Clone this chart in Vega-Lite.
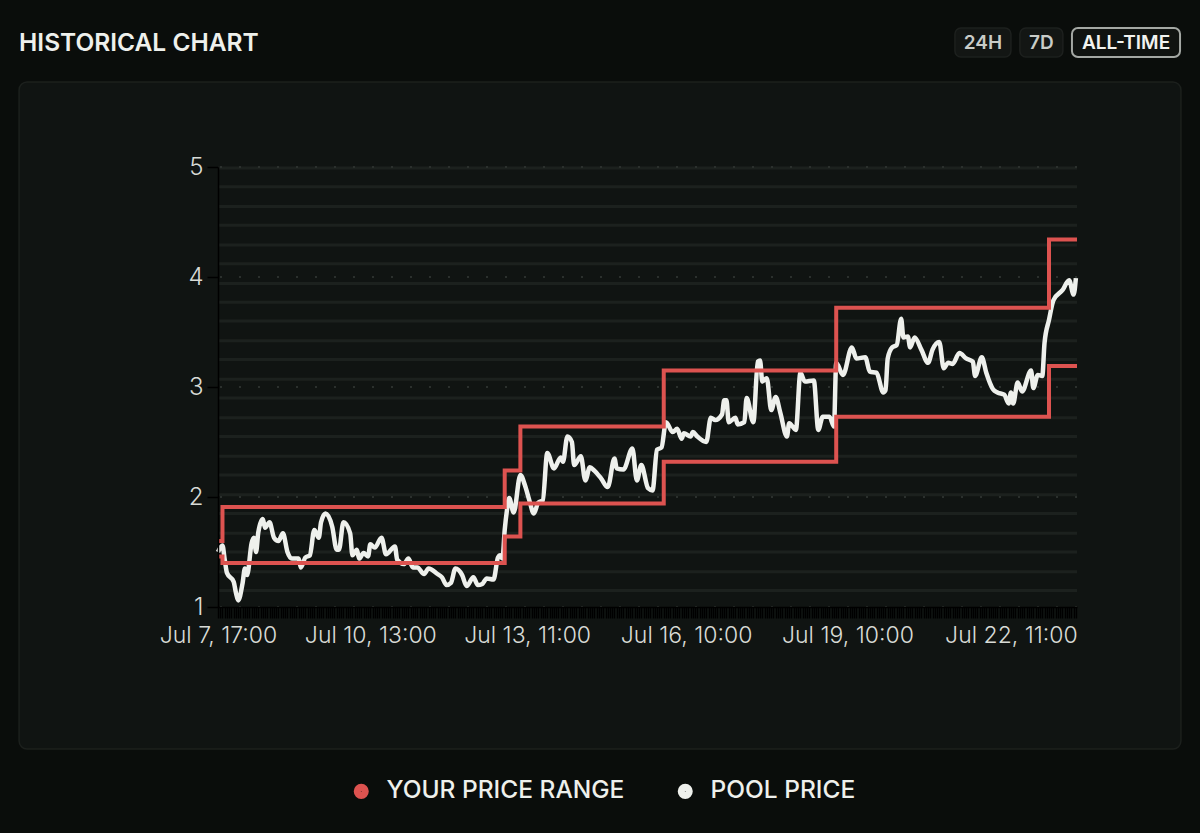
{"$schema":"https://vega.github.io/schema/vega-lite/v6.json","width":859,"height":440,"autosize":{"type":"none"},"padding":{"left":218,"top":167,"right":123,"bottom":226},"background":"#0a0d0b","view":{"stroke":null},
"datasets":{
"minor":[{"v":4.99},{"v":4.82},{"v":4.64},{"v":4.47},{"v":4.29},{"v":4.12},{"v":3.94},{"v":3.77},{"v":3.6},{"v":3.42},{"v":3.25},{"v":3.07},{"v":2.9},{"v":2.72},{"v":2.55},{"v":2.37},{"v":2.2},{"v":2.02},{"v":1.85},{"v":1.67},{"v":1.5},{"v":1.32},{"v":1.15}],
"major":[{"v":5},{"v":4},{"v":3},{"v":2},{"v":1}],
"range":[
{"t":"2023-07-07T17:00Z","v":1.60,"bound":"upper"},{"t":"2023-07-07T19:00Z","v":1.91,"bound":"upper"},{"t":"2023-07-13T01:00Z","v":2.24,"bound":"upper"},{"t":"2023-07-13T08:00Z","v":2.64,"bound":"upper"},{"t":"2023-07-16T00:00Z","v":3.15,"bound":"upper"},{"t":"2023-07-19T05:00Z","v":3.72,"bound":"upper"},{"t":"2023-07-23T04:00Z","v":4.34,"bound":"upper"},{"t":"2023-07-23T16:30Z","v":4.34,"bound":"upper"},
{"t":"2023-07-07T17:00Z","v":1.46,"bound":"lower"},{"t":"2023-07-07T19:00Z","v":1.40,"bound":"lower"},{"t":"2023-07-13T01:00Z","v":1.64,"bound":"lower"},{"t":"2023-07-13T08:00Z","v":1.94,"bound":"lower"},{"t":"2023-07-16T00:00Z","v":2.32,"bound":"lower"},{"t":"2023-07-19T05:00Z","v":2.73,"bound":"lower"},{"t":"2023-07-23T04:00Z","v":3.19,"bound":"lower"},{"t":"2023-07-23T16:30Z","v":3.19,"bound":"lower"}],
"price":[
{"t":"2023-07-07T17:00Z","v":1.50},{"t":"2023-07-07T19:00Z","v":1.56},{"t":"2023-07-07T20:00Z","v":1.43},{"t":"2023-07-07T21:00Z","v":1.31},{"t":"2023-07-08T00:00Z","v":1.23},{"t":"2023-07-08T01:00Z","v":1.13},{"t":"2023-07-08T02:00Z","v":1.06},{"t":"2023-07-08T04:00Z","v":1.22},{"t":"2023-07-08T05:00Z","v":1.35},{"t":"2023-07-08T06:00Z","v":1.29},{"t":"2023-07-08T08:00Z","v":1.58},{"t":"2023-07-08T09:00Z","v":1.63},{"t":"2023-07-08T10:00Z","v":1.50},{"t":"2023-07-08T11:00Z","v":1.68},{"t":"2023-07-08T13:00Z","v":1.80},{"t":"2023-07-08T14:00Z","v":1.72},{"t":"2023-07-08T16:00Z","v":1.77},{"t":"2023-07-08T18:00Z","v":1.63},{"t":"2023-07-08T20:00Z","v":1.60},{"t":"2023-07-08T22:00Z","v":1.67},
{"t":"2023-07-09T00:00Z","v":1.50},{"t":"2023-07-09T02:00Z","v":1.44},{"t":"2023-07-09T05:00Z","v":1.44},{"t":"2023-07-09T06:00Z","v":1.36},{"t":"2023-07-09T08:00Z","v":1.45},{"t":"2023-07-09T10:00Z","v":1.47},{"t":"2023-07-09T12:00Z","v":1.70},{"t":"2023-07-09T14:00Z","v":1.63},{"t":"2023-07-09T15:00Z","v":1.77},{"t":"2023-07-09T17:00Z","v":1.85},{"t":"2023-07-09T20:00Z","v":1.73},{"t":"2023-07-09T22:00Z","v":1.52},{"t":"2023-07-09T23:00Z","v":1.52},
{"t":"2023-07-10T01:00Z","v":1.77},{"t":"2023-07-10T04:00Z","v":1.67},{"t":"2023-07-10T05:00Z","v":1.47},{"t":"2023-07-10T07:00Z","v":1.52},{"t":"2023-07-10T08:00Z","v":1.44},{"t":"2023-07-10T10:00Z","v":1.49},{"t":"2023-07-10T12:00Z","v":1.46},{"t":"2023-07-10T13:00Z","v":1.57},{"t":"2023-07-10T15:00Z","v":1.54},{"t":"2023-07-10T18:00Z","v":1.63},{"t":"2023-07-10T20:00Z","v":1.48},
{"t":"2023-07-11T00:00Z","v":1.55},{"t":"2023-07-11T01:00Z","v":1.43},{"t":"2023-07-11T04:00Z","v":1.39},{"t":"2023-07-11T06:00Z","v":1.44},{"t":"2023-07-11T08:00Z","v":1.36},{"t":"2023-07-11T10:00Z","v":1.36},{"t":"2023-07-11T13:00Z","v":1.30},{"t":"2023-07-11T15:00Z","v":1.35},{"t":"2023-07-11T19:00Z","v":1.30},{"t":"2023-07-11T21:00Z","v":1.27},{"t":"2023-07-11T23:00Z","v":1.20},
{"t":"2023-07-12T01:00Z","v":1.22},{"t":"2023-07-12T03:00Z","v":1.35},{"t":"2023-07-12T06:00Z","v":1.29},{"t":"2023-07-12T08:00Z","v":1.19},{"t":"2023-07-12T11:00Z","v":1.27},{"t":"2023-07-12T13:00Z","v":1.20},{"t":"2023-07-12T15:00Z","v":1.21},{"t":"2023-07-12T17:00Z","v":1.26},{"t":"2023-07-12T20:00Z","v":1.25},{"t":"2023-07-12T22:00Z","v":1.45},{"t":"2023-07-12T23:00Z","v":1.47},
{"t":"2023-07-13T00:00Z","v":1.44},{"t":"2023-07-13T01:00Z","v":1.70},{"t":"2023-07-13T02:00Z","v":1.88},{"t":"2023-07-13T03:00Z","v":1.99},{"t":"2023-07-13T05:00Z","v":1.86},{"t":"2023-07-13T08:00Z","v":2.20},{"t":"2023-07-13T10:00Z","v":2.11},{"t":"2023-07-13T12:00Z","v":1.97},{"t":"2023-07-13T14:00Z","v":1.85},{"t":"2023-07-13T16:00Z","v":1.95},{"t":"2023-07-13T18:00Z","v":1.97},{"t":"2023-07-13T20:00Z","v":2.40},{"t":"2023-07-13T23:00Z","v":2.26},
{"t":"2023-07-14T02:00Z","v":2.36},{"t":"2023-07-14T03:00Z","v":2.32},{"t":"2023-07-14T05:00Z","v":2.55},{"t":"2023-07-14T07:00Z","v":2.50},{"t":"2023-07-14T08:00Z","v":2.29},{"t":"2023-07-14T11:00Z","v":2.37},{"t":"2023-07-14T13:00Z","v":2.15},{"t":"2023-07-14T15:00Z","v":2.27},{"t":"2023-07-14T17:00Z","v":2.24},{"t":"2023-07-14T20:00Z","v":2.17},{"t":"2023-07-14T23:00Z","v":2.09},
{"t":"2023-07-15T02:00Z","v":2.35},{"t":"2023-07-15T03:00Z","v":2.26},{"t":"2023-07-15T06:00Z","v":2.25},{"t":"2023-07-15T10:00Z","v":2.44},{"t":"2023-07-15T12:00Z","v":2.15},{"t":"2023-07-15T14:00Z","v":2.29},{"t":"2023-07-15T17:00Z","v":2.08},{"t":"2023-07-15T19:00Z","v":2.06},{"t":"2023-07-15T21:00Z","v":2.43},{"t":"2023-07-15T23:00Z","v":2.45},
{"t":"2023-07-16T01:00Z","v":2.68},{"t":"2023-07-16T04:00Z","v":2.59},{"t":"2023-07-16T06:00Z","v":2.62},{"t":"2023-07-16T08:00Z","v":2.53},{"t":"2023-07-16T09:00Z","v":2.58},{"t":"2023-07-16T12:00Z","v":2.55},{"t":"2023-07-16T13:00Z","v":2.59},{"t":"2023-07-16T15:00Z","v":2.55},{"t":"2023-07-16T19:00Z","v":2.50},{"t":"2023-07-16T21:00Z","v":2.72},{"t":"2023-07-16T23:00Z","v":2.70},
{"t":"2023-07-17T02:00Z","v":2.75},{"t":"2023-07-17T03:00Z","v":2.88},{"t":"2023-07-17T04:00Z","v":2.88},{"t":"2023-07-17T05:00Z","v":2.68},{"t":"2023-07-17T08:00Z","v":2.72},{"t":"2023-07-17T09:00Z","v":2.66},{"t":"2023-07-17T12:00Z","v":2.68},{"t":"2023-07-17T13:00Z","v":2.90},{"t":"2023-07-17T16:00Z","v":2.68},{"t":"2023-07-17T18:00Z","v":3.23},{"t":"2023-07-17T19:00Z","v":3.24},{"t":"2023-07-17T20:00Z","v":3.05},{"t":"2023-07-17T22:00Z","v":3.08},
{"t":"2023-07-18T00:00Z","v":2.79},{"t":"2023-07-18T02:00Z","v":2.91},{"t":"2023-07-18T04:00Z","v":2.77},{"t":"2023-07-18T07:00Z","v":2.55},{"t":"2023-07-18T08:00Z","v":2.67},{"t":"2023-07-18T11:00Z","v":2.61},{"t":"2023-07-18T13:00Z","v":3.13},{"t":"2023-07-18T15:00Z","v":3.05},{"t":"2023-07-18T19:00Z","v":3.06},{"t":"2023-07-18T21:00Z","v":2.61},{"t":"2023-07-18T23:00Z","v":2.73},
{"t":"2023-07-19T02:00Z","v":2.73},{"t":"2023-07-19T04:00Z","v":2.64},{"t":"2023-07-19T05:00Z","v":3.22},{"t":"2023-07-19T08:00Z","v":3.11},{"t":"2023-07-19T12:00Z","v":3.36},{"t":"2023-07-19T14:00Z","v":3.26},{"t":"2023-07-19T18:00Z","v":3.27},{"t":"2023-07-19T20:00Z","v":3.14},{"t":"2023-07-19T23:00Z","v":3.13},
{"t":"2023-07-20T02:00Z","v":2.95},{"t":"2023-07-20T03:00Z","v":2.97},{"t":"2023-07-20T04:00Z","v":3.26},{"t":"2023-07-20T06:00Z","v":3.36},{"t":"2023-07-20T08:00Z","v":3.38},{"t":"2023-07-20T10:00Z","v":3.62},{"t":"2023-07-20T11:00Z","v":3.45},{"t":"2023-07-20T13:00Z","v":3.46},{"t":"2023-07-20T14:00Z","v":3.36},{"t":"2023-07-20T16:00Z","v":3.45},{"t":"2023-07-20T19:00Z","v":3.34},{"t":"2023-07-20T22:00Z","v":3.22},
{"t":"2023-07-21T00:00Z","v":3.34},{"t":"2023-07-21T03:00Z","v":3.41},{"t":"2023-07-21T05:00Z","v":3.17},{"t":"2023-07-21T07:00Z","v":3.22},{"t":"2023-07-21T09:00Z","v":3.21},{"t":"2023-07-21T12:00Z","v":3.31},{"t":"2023-07-21T15:00Z","v":3.26},{"t":"2023-07-21T18:00Z","v":3.23},{"t":"2023-07-21T19:00Z","v":3.10},{"t":"2023-07-21T22:00Z","v":3.27},
{"t":"2023-07-22T00:00Z","v":3.13},{"t":"2023-07-22T03:00Z","v":2.98},{"t":"2023-07-22T05:00Z","v":2.95},{"t":"2023-07-22T08:00Z","v":2.93},{"t":"2023-07-22T10:00Z","v":2.85},{"t":"2023-07-22T11:00Z","v":2.95},{"t":"2023-07-22T12:00Z","v":2.85},{"t":"2023-07-22T14:00Z","v":3.04},{"t":"2023-07-22T16:00Z","v":2.96},{"t":"2023-07-22T20:00Z","v":3.15},{"t":"2023-07-22T21:00Z","v":2.99},{"t":"2023-07-22T23:00Z","v":3.11},
{"t":"2023-07-23T01:00Z","v":3.10},{"t":"2023-07-23T02:00Z","v":3.40},{"t":"2023-07-23T04:00Z","v":3.61},{"t":"2023-07-23T06:00Z","v":3.79},{"t":"2023-07-23T10:00Z","v":3.88},{"t":"2023-07-23T13:00Z","v":3.97},{"t":"2023-07-23T15:00Z","v":3.84},{"t":"2023-07-23T16:00Z","v":3.99}]
},
"layer":[
{"data":{"values":[{"part":"panel"}]},"mark":{"type":"rect","fill":"#101412","stroke":"#1c201d","strokeWidth":1.5,"cornerRadius":8},"encoding":{"x":{"datum":{"year":2023,"month":7,"date":4,"hours":0,"minutes":12,"utc":true},"type":"temporal","scale":{"type":"utc","domain":[{"year":2023,"month":7,"date":7,"hours":17,"utc":true},{"year":2023,"month":7,"date":23,"hours":16,"minutes":30,"utc":true}]},"title":null,
"axis":{"zindex":1,"title":null,"grid":false,"tickCount":384,"tickColor":"#000000","tickSize":11,"tickWidth":1.4,"domainColor":"#000000","domainWidth":1.5,"labelColor":"#d8dbd6","labelFont":"Inter","labelFontWeight":300,"labelFontSize":23,"labelPadding":6,"labelOverlap":false,"labelBound":false,"labelFlush":false,"labelExpr":"indexof(['07-17','10-13','13-11','16-10','19-10','22-11'],utcFormat(datum.value,'%d-%H'))>=0?utcFormat(datum.value,'%b %-d, %H:%M'):''"}},
"x2":{"datum":{"year":2023,"month":7,"date":25,"hours":14,"minutes":54,"utc":true}},
"y":{"datum":5.773,"type":"quantitative","scale":{"domain":[1,5],"nice":false,"zero":false},"title":null,"axis":{"zindex":1,"title":null,"grid":false,"values":[1,2,3,4,5],"format":"d","tickColor":"#000000","tickSize":11,"tickWidth":1.5,"domainColor":"#000000","domainWidth":1.5,"labelColor":"#d8dbd6","labelFont":"Inter","labelFontWeight":300,"labelFontSize":24,"labelPadding":4}},
"y2":{"datum":-0.291}}},
{"data":{"name":"minor"},"mark":{"type":"rule","stroke":"#1c211e","strokeWidth":3},"encoding":{"y":{"field":"v","type":"quantitative"}}},
{"data":{"name":"major"},"mark":{"type":"rule","stroke":"#2b302d","strokeWidth":2,"strokeDash":[2,17]},"encoding":{"y":{"field":"v","type":"quantitative"}}},
{"data":{"values":[{"part":"24H"}]},"mark":{"type":"rect","fill":"#131614","stroke":"#1d201e","strokeWidth":1.5,"cornerRadius":6},"encoding":{"x":{"datum":{"year":2023,"month":7,"date":21,"hours":10,"utc":true},"type":"temporal"},"x2":{"datum":{"year":2023,"month":7,"date":22,"hours":11,"utc":true}},"y":{"datum":6.264,"type":"quantitative"},"y2":{"datum":6.0}}},
{"data":{"values":[{"part":"7D"}]},"mark":{"type":"rect","fill":"#131614","stroke":"#1d201e","strokeWidth":1.5,"cornerRadius":6},"encoding":{"x":{"datum":{"year":2023,"month":7,"date":22,"hours":15,"utc":true},"type":"temporal"},"x2":{"datum":{"year":2023,"month":7,"date":23,"hours":10,"minutes":12,"utc":true}},"y":{"datum":6.264,"type":"quantitative"},"y2":{"datum":6.0}}},
{"data":{"values":[{"part":"ALL-TIME"}]},"mark":{"type":"rect","fill":"#101311","stroke":"#a4a8a4","strokeWidth":2,"cornerRadius":6},"encoding":{"x":{"datum":{"year":2023,"month":7,"date":23,"hours":14,"minutes":15,"utc":true},"type":"temporal"},"x2":{"datum":{"year":2023,"month":7,"date":25,"hours":14,"minutes":30,"utc":true}},"y":{"datum":6.264,"type":"quantitative"},"y2":{"datum":6.0}}},
{"data":{"values":[{"part":"24H"}]},"mark":{"type":"text","font":"Inter","fontWeight":600,"fontSize":19,"fill":"#c9ccc8","align":"center","baseline":"middle"},"encoding":{"text":{"field":"part"},"x":{"datum":{"year":2023,"month":7,"date":21,"hours":22,"minutes":30,"utc":true},"type":"temporal"},"y":{"datum":6.125,"type":"quantitative"}}},
{"data":{"values":[{"part":"7D"}]},"mark":{"type":"text","font":"Inter","fontWeight":600,"fontSize":19,"fill":"#c9ccc8","align":"center","baseline":"middle"},"encoding":{"text":{"field":"part"},"x":{"datum":{"year":2023,"month":7,"date":23,"hours":0,"minutes":36,"utc":true},"type":"temporal"},"y":{"datum":6.125,"type":"quantitative"}}},
{"data":{"values":[{"part":"ALL-TIME"}]},"mark":{"type":"text","font":"Inter","fontWeight":600,"fontSize":19,"fill":"#f2f3f0","align":"center","baseline":"middle"},"encoding":{"text":{"field":"part"},"x":{"datum":{"year":2023,"month":7,"date":24,"hours":14,"minutes":24,"utc":true},"type":"temporal"},"y":{"datum":6.125,"type":"quantitative"}}},
{"data":{"values":[{"part":"HISTORICAL CHART"}]},"mark":{"type":"text","font":"Inter","fontWeight":600,"fontSize":24.5,"fill":"#eef0ec","align":"left","baseline":"middle"},"encoding":{"text":{"field":"part"},"x":{"datum":{"year":2023,"month":7,"date":4,"hours":0,"minutes":12,"utc":true},"type":"temporal"},"y":{"datum":6.12,"type":"quantitative"}}},
{"data":{"name":"price"},"mark":{"type":"line","strokeWidth":4.5,"strokeJoin":"round","strokeCap":"butt","interpolate":"monotone"},"encoding":{"x":{"field":"t","type":"temporal"},"y":{"field":"v","type":"quantitative"},"color":{"datum":"POOL PRICE","type":"nominal"}}},
{"data":{"name":"range"},"mark":{"type":"line","strokeWidth":4,"interpolate":"step-after","strokeJoin":"miter"},"encoding":{"x":{"field":"t","type":"temporal"},"y":{"field":"v","type":"quantitative"},"detail":{"field":"bound"},"color":{"datum":"YOUR PRICE RANGE","type":"nominal","scale":{"domain":["YOUR PRICE RANGE","POOL PRICE"],"range":["#dd5350","#eef0ec"]},
"legend":{"title":null,"orient":"none","legendX":131,"legendY":612,"direction":"horizontal","symbolType":"circle","symbolSize":50,"symbolStrokeWidth":8,"symbolOpacity":1,"labelColor":"#eef0ec","labelFont":"Inter","labelFontWeight":500,"labelFontSize":24.5,"labelOffset":13,"labelLimit":320,"columnPadding":40}}}}
]}
